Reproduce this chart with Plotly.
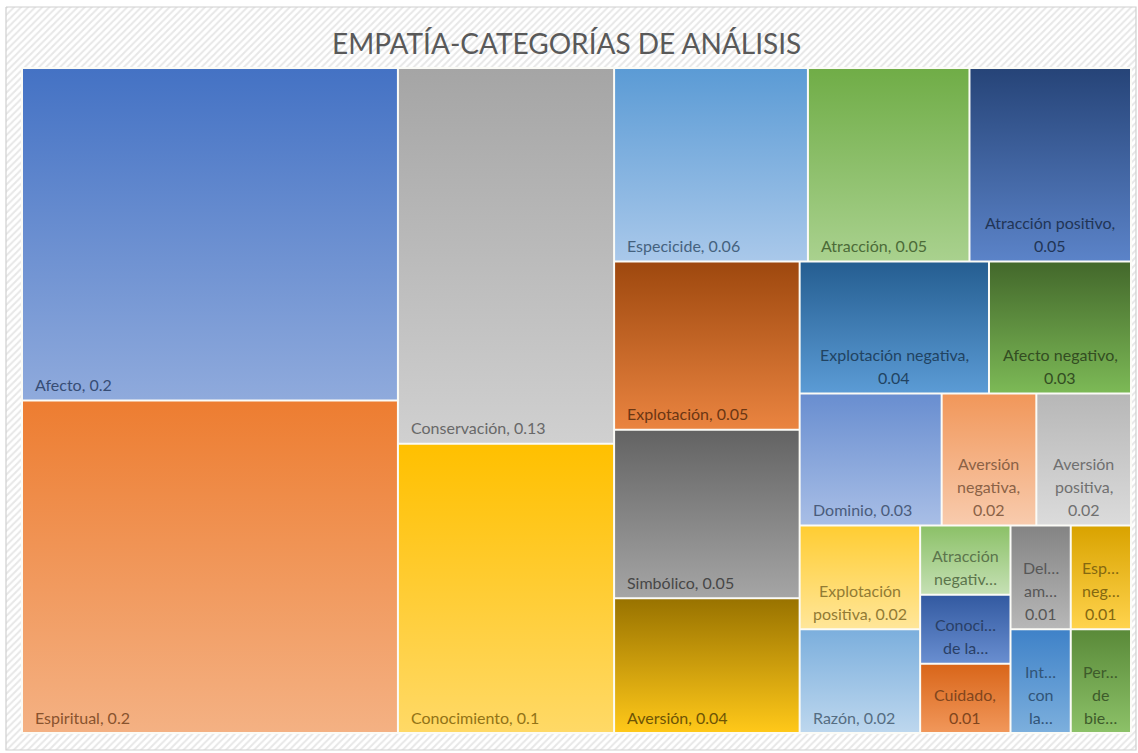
import plotly.graph_objects as go

# ---------------------------------------------------------------- data
categories = [
    "Afecto", "Espiritual", "Conservación", "Conocimiento", "Especicide",
    "Atracción", "Atracción positivo", "Explotación", "Simbólico", "Aversión",
    "Explotación negativa", "Afecto negativo", "Dominio", "Aversión negativa",
    "Aversión positiva", "Explotación positiva", "Razón", "Atracción negativ…",
    "Conoci… de la…", "Cuidado", "Del… am…", "Esp… neg…", "Int… con la…",
    "Per… de bie…",
]
values = [
    0.2, 0.2, 0.13, 0.1, 0.06,
    0.05, 0.05, 0.05, 0.05, 0.04,
    0.04, 0.03, 0.03, 0.02,
    0.02, 0.02, 0.02, 0.01,
    0.01, 0.01, 0.01, 0.01, 0.01,
    0.01,
]

# gradient colours of each cell (top -> bottom)
color_top = [
    "#4472C4", "#ED7D31", "#A5A5A5", "#FFC000", "#5B9BD5",
    "#70AD47", "#264478", "#9E480E", "#636363", "#997300",
    "#255E91", "#43682B", "#698ED0", "#F1975A",
    "#B7B7B7", "#FFCD33", "#7CAFDD", "#8CC168",
    "#335AA1", "#D9661A", "#848484", "#D9A300", "#3F82C8",
    "#5A8A39",
]
color_bottom = [
    "#8FAADC", "#F4B183", "#D0D0D0", "#FFD966", "#A9C8EA",
    "#A9D18E", "#5B83C8", "#EA8440", "#A5A5A5", "#FFC819",
    "#5B9BD5", "#7CB956", "#A8BEE6", "#F8CBAD",
    "#DBDBDB", "#FFE699", "#BDD7EE", "#C5E0B4",
    "#698ED0", "#F1975A", "#B7B7B7", "#FFD34D", "#7CAFDD",
    "#8CC168",
]

title_text = "EMPATÍA-CATEGORÍAS DE ANÁLISIS"

# ---------------------------------------------------------------- layout constants
W, H = 1138, 753
FRAME = (6, 7, 1136, 750)          # chart border (screen px)
AREA = (22, 68, 1131, 733)         # treemap area (screen px)
GAP = 1.0                          # half-width of the white separators
FONT = "Lato, 'Open Sans', sans-serif"
FONT_SIZE = 16
LINE_H = 23
PAD_X = 10
PAD_BOTTOM = 16


def Y(v):
    """screen y (top-down) -> data y (bottom-up)"""
    return H - v


def squarify(vals, x, y, w, h):
    """Squarified treemap (Bruls et al.), returns (x, y, w, h) per value."""
    scale = w * h / sum(vals)
    areas = [v * scale for v in vals]
    rects = []
    i = 0
    while i < len(areas):
        short = min(w, h)

        def worst(row):
            s = sum(row)
            return max(max(short * short * a / (s * s), s * s / (short * short * a)) for a in row)

        row = [areas[i]]
        j = i + 1
        while j < len(areas) and worst(row + [areas[j]]) <= worst(row):
            row.append(areas[j])
            j += 1
        s = sum(row)
        if w >= h:
            cw = s / h
            yy = y
            for a in row:
                rh = a / cw
                rects.append((x, yy, cw, rh))
                yy += rh
            x += cw
            w -= cw
        else:
            rh = s / w
            xx = x
            for a in row:
                rw = a / rh
                rects.append((xx, y, rw, rh))
                xx += rw
            y += rh
            h -= rh
        i = j
    return rects


def text_w(s, size=FONT_SIZE):
    em = 0.0
    for c in s:
        if c in "ilj.,:;' íÍI|!":
            em += 0.25
        elif c in "frt":
            em += 0.36
        elif c == "…":
            em += 0.8
        elif c in "mw":
            em += 0.82
        elif c in "MW":
            em += 0.88
        elif c.isdigit():
            em += 0.58
        elif c.isupper():
            em += 0.62
        else:
            em += 0.52
    return em * size


def wrap(text, limit):
    words = text.split(" ")
    lines = []
    cur = ""
    for wd in words:
        cand = wd if not cur else cur + " " + wd
        if text_w(cand) <= limit or not cur:
            cur = cand
        else:
            lines.append(cur)
            cur = wd
    if cur:
        lines.append(cur)
    return lines


def darker(top, bottom, k=0.45, mix=0.78):
    t = [int(top[i:i + 2], 16) for i in (1, 3, 5)]
    b = [int(bottom[i:i + 2], 16) for i in (1, 3, 5)]
    c = [round(mix * tv * k + (1 - mix) * bv) for tv, bv in zip(t, b)]
    return "rgb({},{},{})".format(*c)


fig = go.Figure()

# hatched chart background with a thin border
fx0, fy0, fx1, fy1 = FRAME
fig.add_trace(go.Scatter(
    x=[fx0, fx1, fx1, fx0, fx0], y=[Y(fy0), Y(fy0), Y(fy1), Y(fy1), Y(fy0)],
    mode="lines", fill="toself",
    line=dict(color="#D0D0D0", width=1.2),
    fillcolor="white",
    fillpattern=dict(shape="/", fgcolor="#CFCFCF", bgcolor="#FFFFFF", size=5, solidity=0.4),
    hoverinfo="skip",
))

# white backing under the cells (shows as the separators)
ax0, ay0, ax1, ay1 = AREA
fig.add_trace(go.Scatter(
    x=[ax0 - 1, ax1 + 1, ax1 + 1, ax0 - 1, ax0 - 1],
    y=[Y(ay0 - 1), Y(ay0 - 1), Y(ay1 + 1), Y(ay1 + 1), Y(ay0 - 1)],
    mode="lines", fill="toself", fillcolor="#FBFBF6",
    line=dict(width=0, color="rgba(0,0,0,0)"), hoverinfo="skip",
))

rects = squarify(values, ax0, ay0, ax1 - ax0, ay1 - ay0)

annotations = []
for name, val, ctop, cbot, (rx, ry, rw, rh) in zip(categories, values, color_top, color_bottom, rects):
    x0, x1 = rx + GAP, rx + rw - GAP
    y0, y1 = ry + GAP, ry + rh - GAP
    fig.add_trace(go.Scatter(
        x=[x0, x1, x1, x0, x0], y=[Y(y0), Y(y0), Y(y1), Y(y1), Y(y0)],
        mode="lines", fill="toself",
        line=dict(width=0, color="rgba(0,0,0,0)"),
        fillgradient=dict(type="vertical", colorscale=[[0, cbot], [1, ctop]],
                          start=Y(y1), stop=Y(y0)),
        hoverinfo="skip", name=name,
    ))

    sep = "" if name.endswith("…") else ","
    label = f"{name}{sep} {val:g}"
    tcol = darker(ctop, cbot)
    if text_w(label) + 2 * PAD_X <= rw:
        lines = [label]
        xpos, anchor = rx + PAD_X + 1, "left"
    else:
        lines = wrap(label, rw - 2 * PAD_X)
        max_lines = max(1, int((rh - 12) // LINE_H))
        lines = lines[:max_lines]
        xpos, anchor = rx + rw / 2, "center"
    n = len(lines)
    for k, ln in enumerate(lines):
        ypos = ry + rh - PAD_BOTTOM - (n - 1 - k) * LINE_H
        annotations.append(dict(
            x=xpos, y=Y(ypos), xref="x", yref="y", text=ln, showarrow=False,
            xanchor=anchor, yanchor="middle",
            font=dict(family=FONT, size=FONT_SIZE, color=tcol),
        ))

annotations.append(dict(
    x=566, y=Y(43), xref="x", yref="y", text=title_text, showarrow=False,
    xanchor="center", yanchor="middle",
    font=dict(family=FONT, size=28, color="#595959"),
))

fig.update_layout(
    width=W, height=H,
    margin=dict(l=0, r=0, t=0, b=0),
    paper_bgcolor="white", plot_bgcolor="white",
    showlegend=False,
    xaxis=dict(range=[0, W], visible=False, fixedrange=True),
    yaxis=dict(range=[0, H], visible=False, fixedrange=True),
    annotations=annotations,
)

fig.write_html("out.html")
